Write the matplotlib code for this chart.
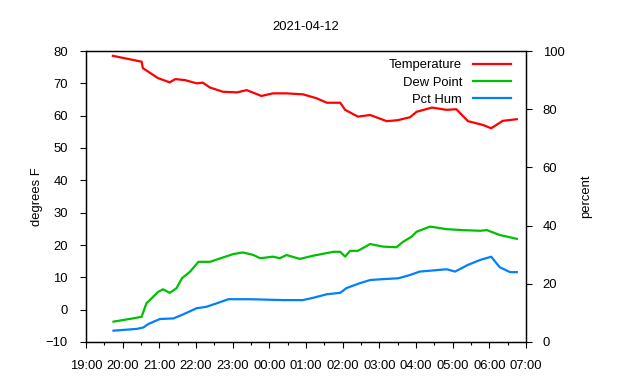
import matplotlib
matplotlib.use("Agg")
import matplotlib.pyplot as plt
from matplotlib.ticker import MultipleLocator

plt.rcParams["font.family"] = ["Liberation Sans", "DejaVu Sans"]
plt.rcParams["font.size"] = 9.4

# readings taken off the chart (clock time, value)
temp_times = ["19:44", "20:31", "20:33", "20:58", "21:17", "21:26", "21:42", "22:01",
              "22:11", "22:23", "22:44", "23:07", "23:23", "23:47", "00:06", "00:28",
              "00:55", "01:17", "01:34", "01:56", "02:04", "02:25", "02:45", "03:12",
              "03:30", "03:50", "04:01", "04:26", "04:50", "05:06", "05:25", "05:50",
              "06:03", "06:22", "06:45"]
temp_vals = [78.5, 76.7, 74.7, 71.6, 70.3, 71.3, 71.0, 70.0,
             70.2, 68.7, 67.4, 67.2, 67.9, 66.1, 66.9, 66.9,
             66.6, 65.4, 64.0, 64.0, 61.8, 59.7, 60.2, 58.3,
             58.6, 59.5, 61.2, 62.5, 61.8, 62.0, 58.3, 57.1,
             56.1, 58.4, 58.9]

dew_times = ["19:45", "20:17", "20:31", "20:39", "20:50", "20:58", "21:06", "21:17",
             "21:28", "21:37", "21:50", "22:04", "22:23", "22:45", "23:01", "23:17",
             "23:34", "23:45", "00:06", "00:17", "00:28", "00:50", "01:12", "01:45",
             "01:56", "02:04", "02:12", "02:25", "02:45", "03:06", "03:28", "03:39",
             "03:53", "04:01", "04:23", "04:50", "05:17", "05:45", "05:56", "06:17",
             "06:45"]
dew_vals = [-3.7, -2.7, -2.2, 2.0, 4.0, 5.5, 6.3, 5.2,
            6.6, 9.7, 11.7, 14.8, 14.8, 16.2, 17.2, 17.7,
            16.9, 15.9, 16.4, 15.9, 16.9, 15.7, 16.7, 17.9,
            17.9, 16.4, 18.2, 18.2, 20.3, 19.5, 19.3, 21.0,
            22.6, 24.1, 25.7, 24.9, 24.6, 24.4, 24.6, 23.1,
            21.9]

hum_times = ["19:45", "20:23", "20:34", "20:42", "21:01", "21:23", "21:37", "22:01",
             "22:17", "22:34", "22:53", "23:28", "00:23", "00:55", "01:12", "01:34",
             "01:56", "02:06", "02:28", "02:45", "03:06", "03:31", "03:50", "04:06",
             "04:23", "04:50", "05:04", "05:25", "05:45", "06:03", "06:17", "06:34",
             "06:45"]
hum_vals = [3.9, 4.5, 5.0, 6.2, 7.9, 8.1, 9.3, 11.6,
            12.1, 13.3, 14.7, 14.7, 14.4, 14.4, 15.2, 16.4,
            16.9, 18.5, 20.2, 21.3, 21.6, 21.9, 23.0, 24.2,
            24.5, 25.0, 24.2, 26.5, 28.2, 29.3, 25.7, 24.0,
            24.0]

hour_labels = ["19:00", "20:00", "21:00", "22:00", "23:00", "00:00", "01:00",
               "02:00", "03:00", "04:00", "05:00", "06:00", "07:00"]


def to_hours(stamps):
    # hours after 19:00, wrapping past midnight
    out = []
    for s in stamps:
        h, m = s.split(":")
        v = int(h) + int(m) / 60.0
        if v < 12:
            v += 24
        out.append(v - 19)
    return out


fig = plt.figure(figsize=(6.4, 3.8), dpi=100)
ax = fig.add_axes([86 / 640, 1 - 342 / 380, 440 / 640, 291 / 380])
ax2 = ax.twinx()

l1, = ax.plot(to_hours(temp_times), temp_vals, color="#ff0000", lw=1.6, label="Temperature")
l2, = ax.plot(to_hours(dew_times), dew_vals, color="#00c000", lw=1.6, label="Dew Point")
l3, = ax2.plot(to_hours(hum_times), hum_vals, color="#0080ff", lw=1.6, label="Pct Hum")

ax.set_xlim(0, 12)
ax.set_ylim(-10, 80)
ax2.set_ylim(0, 100)
ax.set_xticks(range(len(hour_labels)))
ax.set_xticklabels(hour_labels)
ax.xaxis.set_minor_locator(MultipleLocator(0.5))
ax.set_yticks(range(-10, 81, 10))
ax2.set_yticks(range(0, 101, 20))

ax.tick_params(axis="x", which="major", direction="out", length=4, width=0.8, pad=9)
ax.tick_params(axis="x", which="minor", direction="out", length=2, width=0.8)
ax.tick_params(axis="y", direction="out", length=4, width=0.8, pad=9)
ax2.tick_params(axis="y", direction="out", length=4, width=0.8, pad=8)

for a in (ax, ax2):
    for sp in a.spines.values():
        sp.set_linewidth(0.9)

ax.set_ylabel("degrees F")
ax.yaxis.set_label_coords(-(86 - 43) / 440, 0.5)
ax2.set_ylabel("percent")
ax2.yaxis.set_label_coords((580 - 86) / 440, 0.5)

ax.set_title("2021-04-12", pad=15, fontsize=9.4)

ax2.legend(handles=[l1, l2, l3], loc="upper right", bbox_to_anchor=(0.966, 0.972),
           frameon=False, markerfirst=False, borderpad=0, borderaxespad=0,
           handlelength=2.9, handletextpad=0.85, labelspacing=0.4)

fig.savefig("out.png", dpi=100)
